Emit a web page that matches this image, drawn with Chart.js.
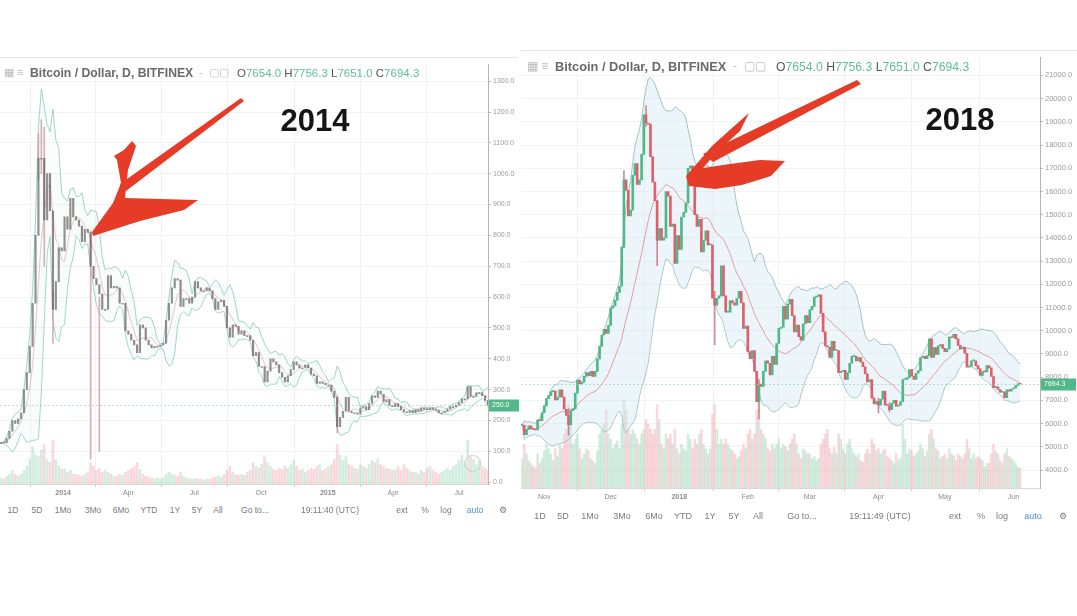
<!DOCTYPE html>
<html>
<head>
<meta charset="utf-8">
<script src="https://cdn.jsdelivr.net/npm/chart.js@4.4.1/dist/chart.umd.min.js"></script>
<style>
  body { margin:0; width:1077px; height:616px; background:#fff; position:relative; overflow:hidden;
         font-family:"Liberation Sans", Arial, sans-serif; }
  .abs { position:absolute; white-space:nowrap; }
  .frame { position:absolute; border-top:1px solid #e4e4e4; }
  .hdr { color:#6a6a6a; font-weight:bold; }
  .ohlc { color:#5fbf98; }
  .ohlc b { color:#555; font-weight:normal; }
  .tb { position:absolute; transform:translateX(-50%); color:#7a7a7a; white-space:nowrap; }
  .year { position:absolute; transform:translate(-50%,-50%); font-weight:bold; font-size:31px; color:#151515; }
  canvas { position:absolute; }
</style>
</head>
<body>

<div class="frame" style="left:0;top:57px;width:518px"></div>
<div class="frame" style="left:521px;top:50px;width:556px"></div>

<canvas id="left" width="520" height="446" style="left:0;top:58px"></canvas>
<canvas id="right" width="556" height="457" style="left:521px;top:51px"></canvas>

<!-- headers -->
<div class="abs" style="left:4px;top:66px;font-size:11px;color:#bbb">&#9638; &#8801;</div>
<div class="abs hdr" style="left:30px;top:66px;font-size:12.2px">Bitcoin / Dollar, D, BITFINEX</div>
<div class="abs" style="left:199px;top:66px;font-size:11px;color:#bbb">-&nbsp; &#9634;&#9634;</div>
<div class="abs ohlc" style="left:237px;top:67px;font-size:11.5px"><b>O</b>7654.0 <b>H</b>7756.3 <b>L</b>7651.0 <b>C</b>7694.3</div>

<div class="abs" style="left:527px;top:59px;font-size:12px;color:#bbb">&#9638; &#8801;</div>
<div class="abs hdr" style="left:555px;top:59px;font-size:12.8px">Bitcoin / Dollar, D, BITFINEX</div>
<div class="abs" style="left:733px;top:59px;font-size:12px;color:#bbb">-&nbsp; &#9634;&#9634;</div>
<div class="abs ohlc" style="left:776px;top:60px;font-size:12.2px"><b>O</b>7654.0 <b>H</b>7756.3 <b>L</b>7651.0 <b>C</b>7694.3</div>

<div class="year" style="left:315px;top:121px">2014</div>
<div class="year" style="left:960px;top:120px">2018</div>

<div class="abs" style="left:464px;top:455px;width:15px;height:15px;border:1px solid #ccc;border-radius:50%"></div>

<div id="tbLeft"></div>
<div id="tbRight"></div>

<canvas id="arrows" width="1077" height="616" style="left:0;top:0;pointer-events:none"></canvas>

<script>
// ---------- 2014 panel: Bitfinex BTC/USD, one close every 4 days from 7 Oct 2013 ----------
const leftStep = 4;
const leftCloses = [
  128, 127, 142, 165, 200, 190, 205,            // Oct 2013
  225, 300, 355, 440, 580, 800, 1050,           // Nov
  1050, 850, 1000, 880, 560, 650, 760, 750,     // Dec
  860, 820, 920, 860, 850, 830, 780, 820,       // Jan 2014
  810, 700, 660, 640, 610, 560, 560,            // Feb
  670, 630, 635, 630, 580, 580, 490,            // Mar
  480, 460, 445, 420, 510, 500, 460, 445,       // Apr
  435, 440, 440, 445, 450, 525, 580, 630,       // May
  660, 655, 570, 595, 595, 580, 600,            // Jun
  650, 630, 620, 620, 630, 620, 595, 560,       // Jul
  585, 590, 570, 500, 470, 510, 505, 480,       // Aug
  490, 475, 475, 460, 410, 420, 375,            // Sep
  375, 325, 360, 400, 390, 380, 355, 340,       // Oct
  325, 345, 365, 390, 380, 370, 370,            // Nov
  380, 370, 350, 345, 320, 325, 320, 315,       // Dec
  315, 295, 275, 180, 210, 230, 275, 230,       // Jan 2015
  225, 225, 220, 240, 245, 235, 255,            // Feb
  280, 275, 295, 285, 260, 268, 248, 245,       // Mar
  255, 245, 235, 228, 225, 232, 225,            // Apr
  235, 230, 240, 236, 235, 240, 237, 233,       // May
  225, 225, 230, 237, 245, 245, 250,            // Jun
  258, 270, 270, 310, 278, 278, 290, 290,       // Jul
  280, 265, 250                                 // Aug
];
const leftVolumes = [
  6, 5, 8, 10, 14, 10, 8,
  10, 14, 18, 25, 38, 30, 28,
  35, 40, 25, 22, 45, 25, 18, 15,
  15, 12, 14, 10, 10, 9, 8, 10,
  12, 22, 18, 14, 16, 12, 14,
  12, 10, 8, 8, 10, 9, 12,
  14, 16, 18, 22, 15, 10, 8, 7,
  6, 5, 6, 5, 6, 10, 12, 10,
  9, 8, 12, 8, 6, 5, 5,
  6, 5, 5, 4, 5, 5, 6, 7,
  8, 7, 10, 14, 18, 12, 10, 9,
  10, 9, 12, 14, 22, 18, 16,
  20, 28, 22, 18, 15, 14, 16, 15,
  18, 16, 20, 24, 18, 14, 15,
  12, 14, 16, 15, 18, 20, 14, 16,
  18, 20, 25, 40, 30, 24, 28, 20,
  18, 16, 15, 20, 18, 16, 20,
  24, 22, 26, 20, 18, 16, 15, 14,
  15, 18, 14, 20, 16, 14, 12,
  12, 10, 14, 12, 16, 18, 14, 12,
  10, 12, 14, 16, 14, 18, 20,
  24, 30, 22, 45, 28, 25, 20, 24,
  18, 16, 14
];
// long wicks visible in the 2014 panel (day counted from 7 Oct 2013)
const leftWickDays = [52, 56, 60, 72, 124, 136, 464];
const leftWickLow  = [980, 1000, 700, 450, 75, 100, 160];
const leftWickHigh = [1130, 1175, 1150, 620, 815, 600, 280];
const leftTickDays = [86, 176, 267, 359, 451, 541, 632];
const leftTickLabels = ['2014', 'Apr', 'Jul', 'Oct', '2015', 'Apr', 'Jul'];

// ---------- 2018 panel: daily closes from 22 Oct 2017 to 4 Jun 2018 ----------
const rightCloses = [
  5930, 5526, 5750, 5904, 5780, 5753, 5726, 6154, 6130, 6468,
  6767, 7078, 7207, 7379, 7407, 7022, 7144, 7459, 7143, 6618,
  6357, 5950, 6559, 6635, 7315, 7871, 7708, 7790, 8036, 8200,
  8071, 8253, 8038, 8253, 8790, 9330, 9818, 10058, 9888, 10233,
  10975, 11074, 11323, 11657, 11916, 13600, 16500, 16050, 14950, 15200,
  16700, 17200, 16300, 16500, 17600, 19300, 18950, 18900, 17500, 16400,
  15600, 13900, 14400, 13900, 14000, 16000, 15800, 14500, 14600, 12900, 14100,
  13500, 14900, 15100, 15500, 17000, 17100, 16300, 15000, 14500, 14800,
  13400, 13900, 14300, 13700, 13700, 11400, 11100, 11400, 11500, 12800,
  11500, 10800, 10800, 11300, 11200, 11100, 11400, 11700, 11200, 10100, 10200,
  9100, 8800, 9150, 8250, 6950, 7700, 7600, 8250, 8700, 8600,
  8100, 8900, 8550, 9450, 10100, 10150, 11050, 10500, 11150, 11350,
  10650, 9950, 10250, 9750, 9600, 10300, 10650, 10350,
  10900, 11050, 11450, 11480, 11550, 10750, 9950, 9350, 9300, 8850,
  9550, 9150, 9150, 8200, 8250, 8300, 7900, 8200, 8600, 8900,
  8900, 8700, 8850, 8650, 8450, 8150, 7800, 7900, 7100, 6850, 6950,
  6800, 7050, 7400, 6800, 6780, 6600, 6880, 7000, 6750, 6800,
  6950, 7900, 7900, 7980, 8330, 8050, 7900, 8170, 8280, 8850,
  8900, 8800, 8930, 9650, 8850, 9280, 8980, 9350, 9400, 9240,
  9100, 9220, 9730, 9700, 9850, 9650, 9370, 9220, 9300, 9030,
  8430, 8480, 8700, 8700, 8500, 8360, 8080, 8240, 8230, 8500,
  8400, 8030, 7550, 7580, 7470, 7350, 7360, 7120, 7460, 7400, 7490,
  7530, 7640, 7710, 7694.3
];
const rightVolumes = [
  30, 45, 35, 28, 25, 22, 20, 35, 25, 30,
  38, 45, 40, 35, 28, 40, 32, 45, 40, 55, 60, 85, 65, 45, 50, 55, 40, 30, 35, 40, 38, 30, 28, 25, 38, 55, 60, 65, 80, 55,
  50, 40, 45, 48, 40, 65, 90, 80, 60, 55, 60, 55, 50, 45, 55, 60, 70, 65, 60, 55, 60, 85, 70, 45, 40, 55, 50, 55, 45, 60, 40,
  35, 45, 40, 38, 55, 50, 40, 50, 45, 55, 60, 45, 40, 35, 40, 75, 85, 60, 45, 50, 45, 50, 45, 40, 38, 35, 30, 32, 38, 45, 40,
  55, 60, 50, 55, 80, 88, 60, 55, 50, 40, 38, 45, 40, 45, 50, 40, 45, 42, 38, 45, 50, 55, 45, 35, 30, 40, 38, 35,
  35, 30, 32, 28, 30, 45, 50, 55, 60, 40, 35, 42, 35, 55, 50, 40, 35, 45, 50, 40, 35, 32, 35, 28, 26, 35, 40, 35, 50, 45, 38,
  40, 35, 38, 40, 32, 30, 28, 25, 35, 28, 30, 65, 50, 35, 40, 38, 32, 35, 38, 45, 40, 32, 38, 55, 60, 50, 40, 38, 30, 32,
  35, 30, 40, 35, 33, 28, 35, 32, 30, 35, 50, 40, 30, 35, 30, 32, 30, 28, 22, 25, 25, 35, 45, 38, 35, 28, 25, 35, 40, 32, 30,
  28, 25, 22, 20
];
// visible wicks in the 2018 panel (day counted from 22 Oct 2017)
const rightWickDays = [21, 46, 56, 61, 87, 107, 161, 166];
const rightWickLow  = [5500, 13600, 18800, 12800, 9400, 6200, 6450, 6500];
const rightWickHigh = [6650, 16900, 19700, 15600, 11700, 7900, 7100, 6900];
const rightTickDays = [10, 40, 71, 102, 130, 161, 191, 222];
const rightTickLabels = ['Nov', 'Dec', '2018', 'Feb', 'Mar', 'Apr', 'May', 'Jun'];

Chart.defaults.font.family = '"Liberation Sans", Arial, sans-serif';

function bollinger(closes, n) {
  const mid = [], up = [], lo = [];
  closes.forEach((c, i) => {
    const w = closes.slice(Math.max(0, i - n + 1), i + 1);
    const m = w.reduce((a, b) => a + b, 0) / w.length;
    const sd = Math.sqrt(w.reduce((a, b) => a + (b - m) * (b - m), 0) / w.length);
    mid.push(m); up.push(m + 2 * sd); lo.push(m - 2 * sd);
  });
  return { mid, up, lo };
}

function lastPrice(value) {
  return {
    id: 'lastPrice',
    afterDraw(chart) {
      const { ctx, chartArea } = chart;
      const y = Math.round(chart.scales.y.getPixelForValue(value)) + 0.5;
      ctx.save();
      ctx.strokeStyle = 'rgba(150,200,180,0.6)';
      ctx.setLineDash([2, 2]);
      ctx.beginPath(); ctx.moveTo(chartArea.left, y); ctx.lineTo(chartArea.right, y); ctx.stroke();
      ctx.setLineDash([]);
      ctx.fillStyle = '#52b887';
      ctx.fillRect(chartArea.right + 1, y - 6, chart.width - chartArea.right - 2, 12);
      ctx.fillStyle = '#fff';
      ctx.font = '7px "Liberation Sans", Arial';
      ctx.textBaseline = 'middle';
      ctx.fillText(value.toFixed(1), chartArea.right + 4, y);
      ctx.restore();
    }
  };
}

function candleChart(id, p) {
  const days = p.closes.map((c, i) => i * p.step);
  const opens = p.closes.map((c, i) => i ? p.closes[i - 1] : c);
  const bb = bollinger(p.closes, p.bbLen);
  const up = p.closes.map((c, i) => c >= opens[i]);

  new Chart(document.getElementById(id), {
    type: 'bar',
    data: {
      datasets: [
        { data: days.map((d, i) => ({ x: d, y: [opens[i], p.closes[i]] })),
          backgroundColor: up.map(u => u ? p.upColor : p.downColor),
          barThickness: p.bodyWidth, minBarLength: 1, grouped: false, order: 1 },
        { data: p.wickDays.map((d, i) => ({ x: d, y: [p.wickLow[i], p.wickHigh[i]] })),
          backgroundColor: p.wickColor, barThickness: 1, grouped: false, order: 2 },
        { type: 'line', data: days.map((d, i) => ({ x: d, y: bb.up[i] })),
          borderColor: p.bandColor, borderWidth: 1, pointRadius: 0, fill: '+1',
          backgroundColor: p.bandFill, order: 5 },
        { type: 'line', data: days.map((d, i) => ({ x: d, y: bb.lo[i] })),
          borderColor: p.bandColor, borderWidth: 1, pointRadius: 0, fill: false, order: 6 },
        { type: 'line', data: days.map((d, i) => ({ x: d, y: bb.mid[i] })),
          borderColor: p.midColor, borderWidth: 1, pointRadius: 0, fill: false, order: 4 },
        { data: days.map((d, i) => ({ x: d, y: p.volumes[i] })), yAxisID: 'v',
          backgroundColor: up.map(u => u ? 'rgba(125,200,165,0.33)' : 'rgba(236,140,150,0.33)'),
          barThickness: 2, grouped: false, order: 10 }
      ]
    },
    options: {
      responsive: false,
      animation: false,
      events: [],
      layout: { padding: 0 },
      plugins: { legend: { display: false }, tooltip: { enabled: false } },
      scales: {
        x: {
          type: 'linear', min: p.xMin, max: p.xMax, offset: false,
          afterBuildTicks: s => { s.ticks = p.tickDays.map(v => ({ value: v })); },
          afterFit: s => { s.height = 20; },
          grid: { color: '#f1f1f1', tickLength: 3, tickColor: '#ccc' },
          border: { color: '#d8d8d8' },
          ticks: {
            autoSkip: false, maxRotation: 0, color: '#8a8a8a', padding: 2,
            font: c => ({ size: p.tickFont, weight: /^\d{4}$/.test(p.tickLabels[c.index]) ? 'bold' : 'normal' }),
            callback: (v, i) => p.tickLabels[i]
          }
        },
        y: {
          position: 'right', min: p.yMin, max: p.yMax,
          afterBuildTicks: s => {
            const t = [];
            for (let v = Math.ceil(p.yMin / p.yStep) * p.yStep; v <= p.yMax; v += p.yStep) t.push({ value: v });
            s.ticks = t;
          },
          afterFit: s => { s.width = p.axisWidth; },
          grid: { color: '#f3f3f3', tickLength: 3, tickColor: '#bbb' },
          border: { color: '#b5b5b5' },
          ticks: { color: '#9a9a9a', padding: 2, font: { size: p.yFont }, callback: v => v.toFixed(1) }
        },
        v: { display: false, min: 0, max: p.volMax }
      }
    },
    plugins: [lastPrice(p.closes[p.closes.length - 1])]
  });
}

candleChart('left', {
  closes: leftCloses, volumes: leftVolumes, step: leftStep, bbLen: 5,
  wickDays: leftWickDays, wickLow: leftWickLow, wickHigh: leftWickHigh,
  tickDays: leftTickDays, tickLabels: leftTickLabels,
  xMin: -1, xMax: 672, yMin: -6, yMax: 1355, yStep: 100, volMax: 430,
  axisWidth: 32, tickFont: 7, yFont: 7, bodyWidth: 1.5,
  upColor: 'rgba(105,112,110,0.75)', downColor: 'rgba(112,95,95,0.75)', wickColor: 'rgba(205,150,150,0.75)',
  bandColor: 'rgba(140,205,195,0.85)', bandFill: 'rgba(200,235,230,0.12)', midColor: 'rgba(200,150,150,0.5)'
});

candleChart('right', {
  closes: rightCloses, volumes: rightVolumes, step: 1, bbLen: 20,
  wickDays: rightWickDays, wickLow: rightWickLow, wickHigh: rightWickHigh,
  tickDays: rightTickDays, tickLabels: rightTickLabels,
  xMin: -0.5, xMax: 234, yMin: 3227, yMax: 21771, yStep: 1000, volMax: 440,
  axisWidth: 37, tickFont: 7, yFont: 7.5, bodyWidth: 2,
  upColor: '#4fb887', downColor: '#df5f6b', wickColor: 'rgba(200,110,120,0.8)',
  bandColor: 'rgba(150,185,185,0.85)', bandFill: 'rgba(200,230,240,0.35)', midColor: 'rgba(225,135,135,0.8)'
});

// ---------- toolbars ----------
const leftTools = [['1D', 13], ['5D', 37], ['1Mo', 63], ['3Mo', 93], ['6Mo', 121], ['YTD', 149], ['1Y', 175],
  ['5Y', 197], ['All', 218], ['Go to...', 255], ['19:11:40 (UTC)', 330], ['ext', 402], ['%', 425], ['log', 446], ['auto', 475], ['\u2699', 503]];
const rightTools = [['1D', 540], ['5D', 563], ['1Mo', 590], ['3Mo', 622], ['6Mo', 654], ['YTD', 683], ['1Y', 710],
  ['5Y', 734], ['All', 758], ['Go to...', 802], ['19:11:49 (UTC)', 880], ['ext', 955], ['%', 981], ['log', 1002], ['auto', 1033], ['\u2699', 1063]];

function toolbar(el, items, top, size) {
  el.innerHTML = items.map(([t, x]) => {
    let style = `left:${x}px;top:${top}px;font-size:${size}px;`;
    if (t === 'auto') style += 'color:#4a92d8;';
    if (t === '\u2699') style += `font-family:"DejaVu Sans";font-size:${size + 3}px;color:#555;top:${top - 3}px;`;
    return `<span class="tb" style="${style}">${t}</span>`;
  }).join('');
}
toolbar(document.getElementById('tbLeft'), leftTools, 505, 8.5);
toolbar(document.getElementById('tbRight'), rightTools, 511, 9);

// ---------- red arrows ----------
const actx = document.getElementById('arrows').getContext('2d');
actx.fillStyle = '#e63b26';
function poly(pts) {
  actx.beginPath();
  actx.moveTo(pts[0][0], pts[0][1]);
  pts.slice(1).forEach(p => actx.lineTo(p[0], p[1]));
  actx.closePath();
  actx.fill();
}
// 2014 arrow
poly([[241, 98], [244, 101], [126, 191], [120, 184]]);
poly([[92, 232], [113, 203], [121, 183], [117, 160], [114, 156], [124, 150], [132, 141], [136, 146],
      [128, 170], [125, 198], [160, 199], [198, 200], [184, 210], [140, 221], [93, 236]]);
// 2018 arrow
poly([[857, 80], [861, 84], [713, 162], [703, 154]]);
poly([[686, 176], [700, 160], [712, 146], [732, 128], [749, 113], [740, 131], [716, 153], [703, 168],
      [730, 164], [760, 160], [785, 161], [771, 176], [742, 185], [715, 189], [689, 186]]);
</script>
</body>
</html>
